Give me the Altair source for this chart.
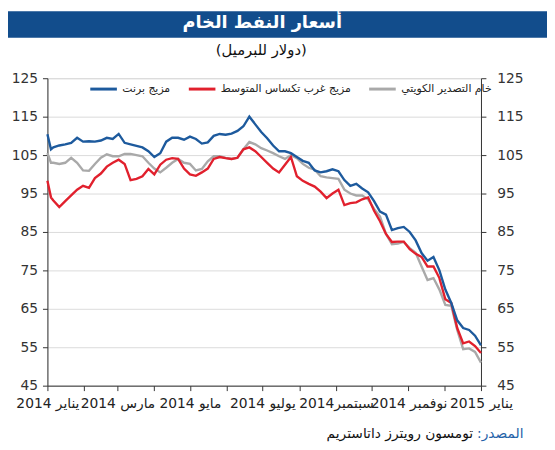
import altair as alt
import pandas as pd

# ---------------- data ----------------
dates = [
    "2014-01-01", "2014-01-04", "2014-01-06", "2014-01-11", "2014-01-16", "2014-01-21", "2014-01-26", "2014-01-31",
    "2014-02-05", "2014-02-10", "2014-02-15", "2014-02-20", "2014-02-25",
    "2014-03-02", "2014-03-07", "2014-03-12", "2014-03-17", "2014-03-22", "2014-03-27",
    "2014-04-01", "2014-04-06", "2014-04-11", "2014-04-16", "2014-04-21", "2014-04-26",
    "2014-05-01", "2014-05-06", "2014-05-11", "2014-05-16", "2014-05-21", "2014-05-26", "2014-05-31",
    "2014-06-05", "2014-06-10", "2014-06-15", "2014-06-20", "2014-06-25", "2014-06-30",
    "2014-07-05", "2014-07-10", "2014-07-15", "2014-07-20", "2014-07-25", "2014-07-30",
    "2014-08-04", "2014-08-09", "2014-08-14", "2014-08-19", "2014-08-24", "2014-08-29",
    "2014-09-03", "2014-09-08", "2014-09-13", "2014-09-18", "2014-09-23", "2014-09-28",
    "2014-10-03", "2014-10-08", "2014-10-13", "2014-10-18", "2014-10-23", "2014-10-28",
    "2014-11-02", "2014-11-07", "2014-11-12", "2014-11-17", "2014-11-22", "2014-11-27",
    "2014-12-02", "2014-12-07", "2014-12-12", "2014-12-17", "2014-12-22", "2014-12-27", "2015-01-01",
]

brent = [
    110.4, 106.5, 107.0, 107.5, 107.8, 108.2, 109.5, 108.5,
    108.6, 108.5, 108.8, 109.5, 109.2,
    110.5, 108.2, 107.8, 107.4, 107.0, 106.0,
    104.5, 105.5, 108.5, 109.5, 109.5, 109.0,
    109.8, 109.2, 108.0, 108.3, 110.0, 110.5, 110.3,
    110.6, 111.3, 112.5, 115.0, 113.0, 111.0,
    109.4, 107.5, 106.0, 106.0, 105.5, 104.5,
    103.5, 103.0, 101.0, 100.5, 100.8, 101.3,
    100.8, 98.5, 97.0, 97.5, 96.3, 95.3,
    93.0, 90.3, 89.5, 85.5, 86.0, 86.3,
    85.0, 82.8, 79.5, 77.5, 78.5, 75.0,
    70.0, 66.5, 62.0, 60.0, 59.5, 58.0, 55.5,
]

wti = [
    98.3, 94.0, 93.2, 91.5, 93.0, 94.5, 96.0, 97.0,
    96.5, 99.0, 100.2, 102.0, 103.0,
    103.8, 102.7, 98.5, 98.8, 99.5, 101.4,
    100.0, 102.5, 103.8, 104.2, 104.0, 101.5,
    100.0, 99.6, 100.5, 101.5, 104.0, 104.5, 104.2,
    104.0, 104.3, 106.5, 107.0, 106.0, 104.5,
    103.0, 101.5, 100.5, 102.5, 104.5, 99.5,
    98.3, 97.5, 96.8, 95.5, 93.8, 95.0,
    96.0, 92.0, 92.5, 92.7, 93.5, 94.0,
    90.5, 87.8, 84.5, 82.4, 82.5, 82.5,
    80.5, 79.3, 78.5, 76.0, 76.0, 73.0,
    67.5, 66.5, 60.0, 56.0, 56.5, 55.3, 53.5,
]

kuwait = [
    105.5, 103.0, 103.0, 102.7, 103.0, 104.3, 103.0, 101.0,
    100.9, 102.7, 104.3, 105.2, 104.7,
    104.7, 105.3, 105.3, 105.0, 104.7, 103.0,
    101.5, 100.5, 101.7, 103.0, 104.0, 103.0,
    102.7, 101.0, 101.4, 103.4, 104.7, 104.7, 104.3,
    104.0, 104.3, 106.5, 108.4, 107.8, 106.8,
    106.2, 105.5, 104.7, 104.0, 105.0, 104.2,
    102.7, 101.7, 101.2, 99.5, 99.2, 99.0,
    98.8, 96.0, 95.0, 94.5, 94.5, 93.5,
    91.0, 89.0, 84.5, 81.8, 82.0, 82.4,
    80.8, 79.6, 76.0, 72.5, 73.0, 70.0,
    66.0, 65.8, 59.5, 54.5, 54.7, 53.8, 51.0,
]

series_names = ["مزيج برنت", "مزيج غرب تكساس المتوسط", "خام التصدير الكويتي"]
series_colors = ["#1d5a9d", "#e1202d", "#a9a9a9"]

y_ticks = [45, 55, 65, 75, 85, 95, 105, 115, 125]

x_tick_months = [(2014, m) for m in range(1, 13)] + [(2015, 1)]
x_tick_labels = ["يناير 2014", "", "مارس 2014", "", "مايو 2014", "", "يوليو 2014", "",
                 "سبتمبر2014", "", "نوفمبر 2014", "", "يناير 2015"]

title_text = "أسعار النفط الخام"
subtitle_text = "(دولار للبرميل)"
source_label = "المصدر:"
source_text = "تومسون رويترز داتاستريم"

# ---------------- build ----------------
FONT = "DejaVu Sans"
RLM = "\u200f"  # keeps the colon on the Arabic side when drawn
series_values = {series_names[0]: brent, series_names[1]: wti, series_names[2]: kuwait}
rows = []
for name in series_names:
    for d, v in zip(dates, series_values[name]):
        rows.append({"date": d, "series": name, "value": v})
df = pd.DataFrame(rows)

x_domain = [alt.DateTime(year=2014, month=1, date=1, utc=True),
            alt.DateTime(year=2015, month=1, date=1, utc=True)]
x_vals = [alt.DateTime(year=y, month=m, date=1, utc=True) for (y, m) in x_tick_months]

conds = []
for (yy, mm), lab in zip(x_tick_months, x_tick_labels):
    if lab:
        conds.append(f"(utcyear(datum.value)=={yy} && utcmonth(datum.value)=={mm - 1}) ? '{lab}' : ")
label_expr = "".join(conds) + "''"

x_enc = alt.X(
    "date:T", title=None,
    scale=alt.Scale(type="utc", domain=x_domain),
    axis=alt.Axis(values=x_vals, labelExpr=label_expr, grid=False, tickSize=5,
                  labelPadding=6, labelFont=FONT, labelFontSize=14, labelColor="#222",
                  domainColor="#333", tickColor="#333", labelOverlap=False,
                  labelFlush=False, labelBound=False),
)

y_scale = alt.Scale(domain=[45, 125], nice=False, zero=False)
y_left = alt.Y("value:Q", title=None, scale=y_scale,
               axis=alt.Axis(values=y_ticks, orient="left", grid=True, gridColor="#dadada",
                             tickSize=5, labelPadding=5, labelFont=FONT, labelFontSize=14,
                             labelColor="#333", domainColor="#333", tickColor="#333"))
y_right = alt.Y("value:Q", title=None, scale=y_scale,
                axis=alt.Axis(values=y_ticks, orient="right", grid=False,
                              tickSize=5, labelPadding=11, labelFont=FONT, labelFontSize=14,
                              labelColor="#333", domainColor="#333", tickColor="#333"))

color_enc = alt.Color(
    "series:N",
    scale=alt.Scale(domain=series_names, range=series_colors),
    legend=alt.Legend(title=None, orient="none", legendX=42, legendY=-4, direction="horizontal",
                      symbolType="stroke", symbolStrokeWidth=3, symbolSize=729,
                      labelFont=FONT, labelFontSize=11, labelColor="#222",
                      columnPadding=12, labelOffset=4),
)

draw_order = [series_names[2], series_names[1], series_names[0]]
line_layers = [
    alt.Chart(df).transform_filter(alt.datum.series == name)
    .mark_line(strokeWidth=2.4)
    .encode(x=x_enc, y=y_left, color=color_enc)
    for name in draw_order
]
left = alt.layer(*line_layers)
right = alt.Chart(df).mark_line(opacity=0).encode(x=x_enc, y=y_right, detail="series:N")

one = pd.DataFrame({"k": [0]})
bar = alt.Chart(one).mark_rect(color="#124d8c").encode(
    x=alt.value(-40), x2=alt.value(507), y=alt.value(-68), y2=alt.value(-41))
title = alt.Chart(pd.DataFrame({"t": [title_text]})).mark_text(
    font=FONT, fontSize=18, fontWeight="bold", color="white", align="center",
    baseline="middle").encode(x=alt.value(218), y=alt.value(-56), text="t:N")
subtitle = alt.Chart(pd.DataFrame({"t": [subtitle_text]})).mark_text(
    font=FONT, fontSize=15, color="#111", align="center", baseline="middle").encode(
    x=alt.value(217), y=alt.value(-29), text="t:N")
src1 = alt.Chart(pd.DataFrame({"t": [source_label + RLM]})).mark_text(
    font=FONT, fontSize=14, color="#2462a8", align="left", baseline="middle").encode(
    x=alt.value(436), y=alt.value(361), text="t:N")
src2 = alt.Chart(pd.DataFrame({"t": [source_text]})).mark_text(
    font=FONT, fontSize=14, color="#111", align="right", baseline="middle").encode(
    x=alt.value(432), y=alt.value(361), text="t:N")

chart = (
    alt.layer(bar, title, subtitle, left, right, src1, src2)
    .resolve_scale(y="independent")
    .properties(width=440, height=312, autosize="none",
                padding={"left": 40, "top": 68, "right": 67, "bottom": 62})
    .configure_view(stroke=None)
    .configure(background="white")
)

chart.save("out.html", embed_options={"renderer": "svg", "actions": False})
